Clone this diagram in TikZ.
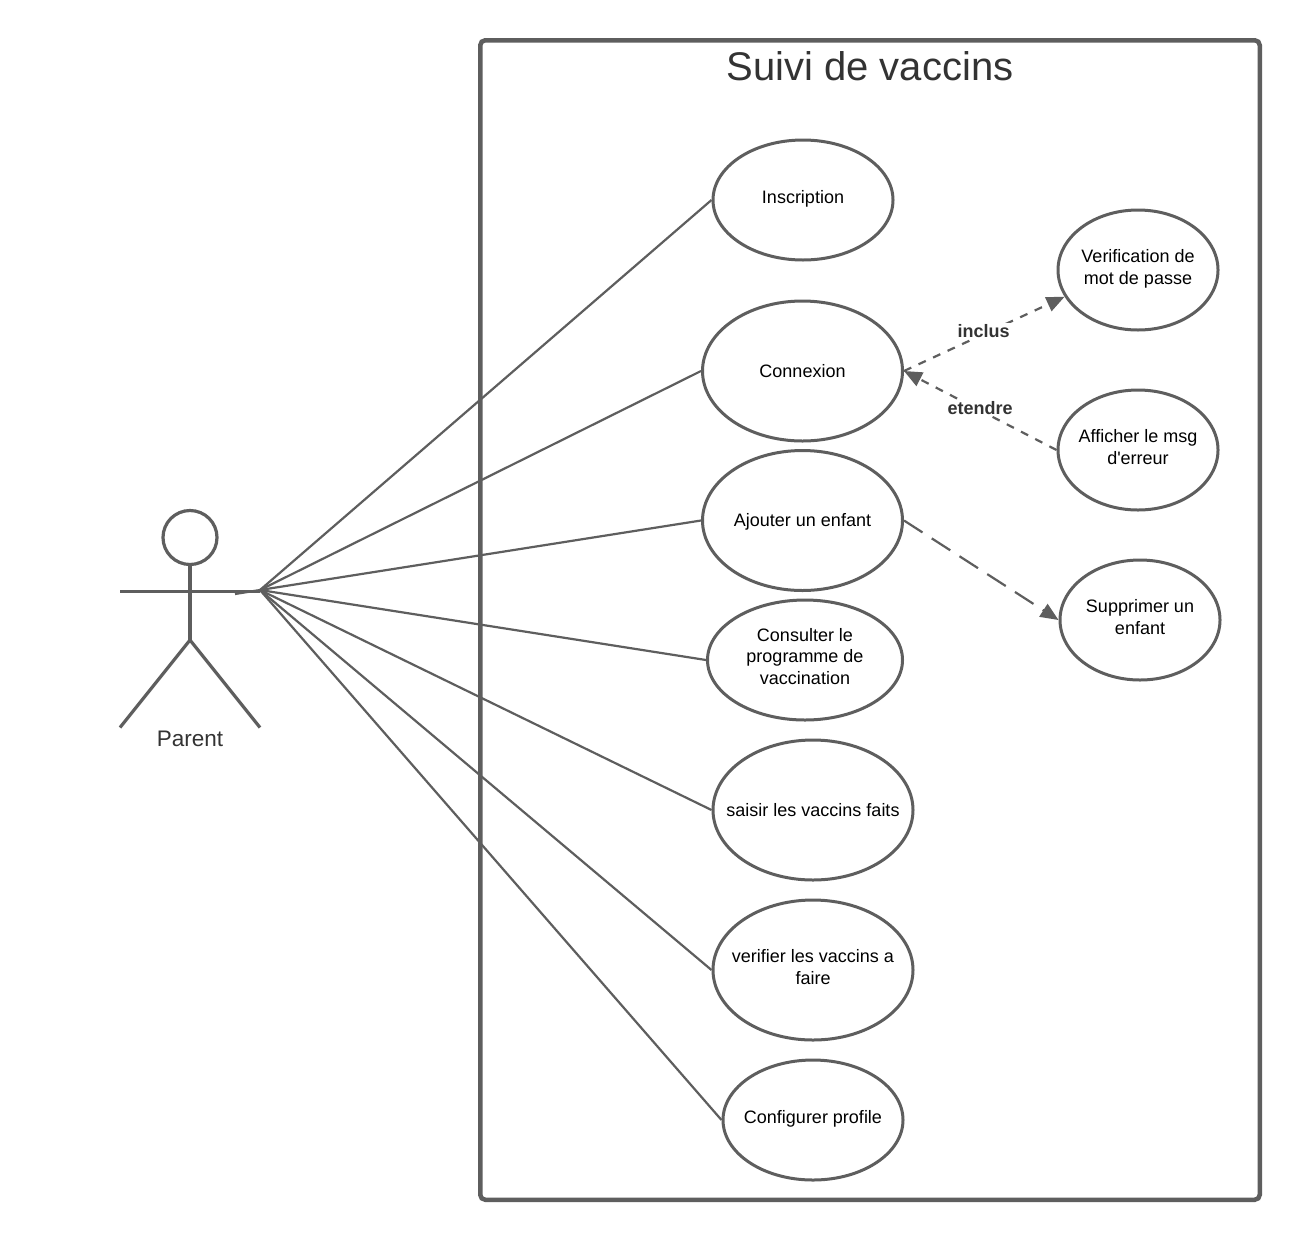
\documentclass[tikz,border=0pt]{standalone}
\usepackage{fontspec}
\setmainfont{Liberation Sans}
\usetikzlibrary{arrows.meta,shapes.geometric}
\definecolor{ln}{HTML}{5E5E5E}
\definecolor{tx}{HTML}{333333}
\newcommand\dpt{\rule[-6pt]{0pt}{6pt}}
\tikzset{
 uc/.style={draw=ln,line width=3pt,ellipse,fill=white,inner xsep=-20pt,inner ysep=0pt,align=center,text=black,font=\fontsize{18}{21.5}\selectfont},
 assoc/.style={draw=ln,line width=2.2pt},
 dep/.style={draw=ln,line width=2.2pt,dash pattern=on 8pt off 8pt,-{Triangle[length=18pt,width=15pt]}},
 ext/.style={draw=ln,line width=2.2pt,dash pattern=on 22pt off 11pt,-{Triangle[length=18pt,width=15pt]}},
 lbl/.style={fill=white,inner sep=1pt,text=tx,font=\bfseries\fontsize{18}{21}\selectfont},
 stick/.style={draw=ln,line width=3.2pt}
}
\begin{document}
\begin{tikzpicture}[x=1pt,y=-1pt]
\useasboundingbox (0,0) rectangle (1300,1240);
\fill[white] (0,0) rectangle (1300,1240);
\node[draw=ln,line width=4.5pt,rounded corners=5pt,minimum width=779.5pt,minimum height=1159.5pt,inner sep=0pt] (sys) at (870,620) {};
\node[font=\fontsize{40}{48}\selectfont,text=tx] (title) at (870,66) {Suivi de vaccins};
% actor
\node[circle,draw=ln,line width=3.2pt,minimum size=54pt,inner sep=0pt] (head) at (190,537.5) {};
\coordinate (neck) at (190,640);
\coordinate (armL) at (120,591.5);
\coordinate (armR) at (260,591.5);
\coordinate (footL) at (120,727.5);
\coordinate (footR) at (260,727.5);
\coordinate (hub) at (260,590);
\coordinate (hubT) at (235,594);
\draw[stick] (head.south) -- (neck);
\draw[stick] (armL) -- (armR);
\draw[stick] (footL) -- (neck) -- (footR);
\node[font=\fontsize{22.5}{27}\selectfont,text=tx] (parent) at (190,739) {Parent};
% use cases
\node[uc,minimum width=180pt,minimum height=120pt] (a) at (803,200) {Inscription\dpt};
\node[uc,minimum width=200pt,minimum height=140pt] (b) at (802.5,371) {Connexion};
\node[uc,minimum width=200pt,minimum height=140pt] (c) at (802.5,520.5) {\rule{0pt}{15pt}Ajouter un enfant};
\node[uc,minimum width=195pt,minimum height=120pt] (d) at (805,660) {Consulter le\\programme de\\vaccination\rule[-8pt]{0pt}{8pt}};
\node[uc,minimum width=200pt,minimum height=140pt] (e) at (813,810) {saisir les vaccins faits};
\node[uc,minimum width=200pt,minimum height=140pt] (f) at (813,970) {verifier les vaccins a\\faire\dpt};
\node[uc,minimum width=180pt,minimum height=120pt] (g) at (813,1120) {Configurer profile\dpt};
\node[uc,minimum width=160pt,minimum height=120pt] (h) at (1138,270) {Verification de\\mot de passe\dpt};
\node[uc,minimum width=160pt,minimum height=120pt] (i) at (1138,450) {Afficher le msg\\d\textquotesingle erreur\dpt};
\node[uc,minimum width=160pt,minimum height=120pt] (j) at (1140,620) {Supprimer un\\enfant\dpt};
% associations
\draw[assoc] (hubT) -- (hub);
\foreach \n in {a,b,c,d,e,f,g} \draw[assoc] (hub) -- (\n.west);
% dependencies
\draw[dep] (b.east) -- (h.200);
\draw[dep] (i.west) -- (b.east);
\draw[ext] (c.east) -- (j.west);
\node[lbl] (l1) at (983.5,331) {inclus};
\node[lbl] (l2) at (980,408) {etendre};
\end{tikzpicture}
\end{document}
